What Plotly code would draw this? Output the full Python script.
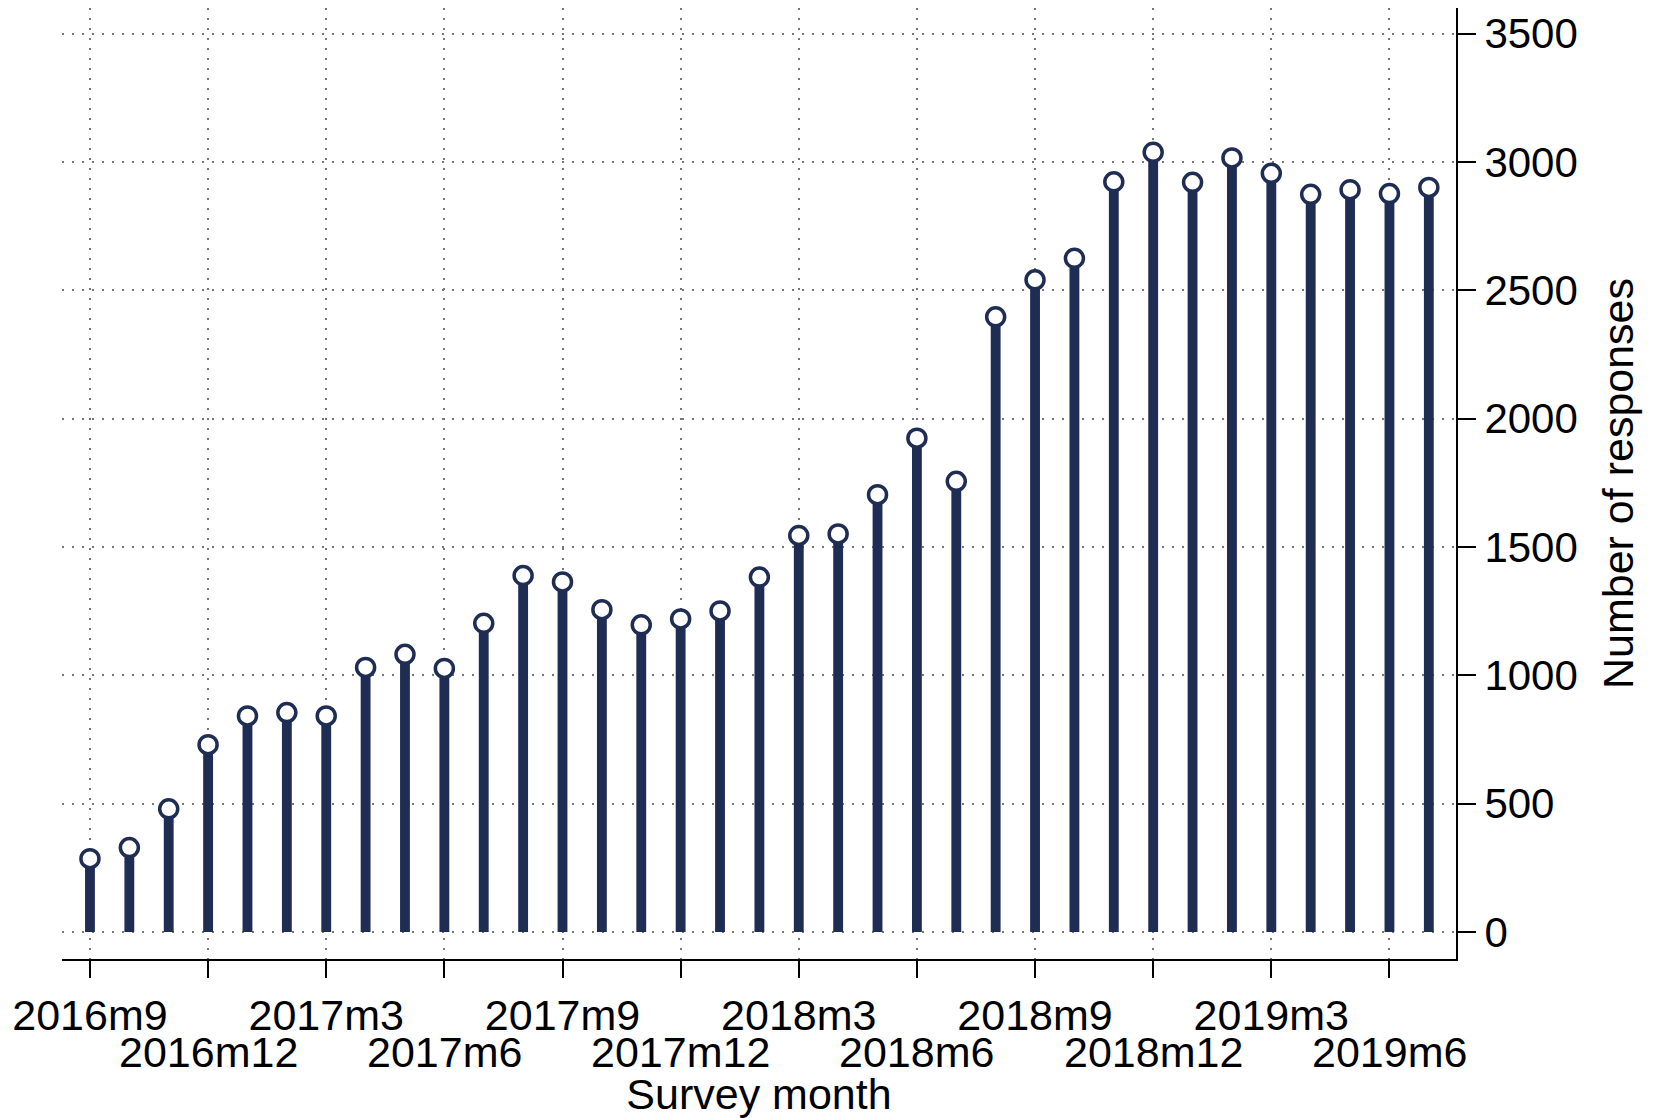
import plotly.graph_objects as go

# survey months, 2016m9 .. 2019m7
months = ["2016m9", "2016m10", "2016m11", "2016m12",
          "2017m1", "2017m2", "2017m3", "2017m4", "2017m5", "2017m6",
          "2017m7", "2017m8", "2017m9", "2017m10", "2017m11", "2017m12",
          "2018m1", "2018m2", "2018m3", "2018m4", "2018m5", "2018m6",
          "2018m7", "2018m8", "2018m9", "2018m10", "2018m11", "2018m12",
          "2019m1", "2019m2", "2019m3", "2019m4", "2019m5", "2019m6", "2019m7"]
responses = [286, 329, 480, 730,
             842, 855, 842, 1031, 1082, 1027,
             1203, 1389, 1364, 1256, 1197, 1220,
             1251, 1383, 1545, 1551, 1704, 1924,
             1756, 2397, 2541, 2625, 2923, 3038,
             2921, 3016, 2956, 2874, 2892, 2877, 2901]

# labelled months, Stata style: alternate labels sit on a second row
tick_months = ["2016m9", "2016m12", "2017m3", "2017m6", "2017m9", "2017m12",
               "2018m3", "2018m6", "2018m9", "2018m12", "2019m3", "2019m6"]
row1 = tick_months[0::2]
row2 = tick_months[1::2]

navy = "#1f2d54"
font = "Liberation Sans, Arial, sans-serif"

fig = go.Figure()
fig.add_trace(go.Bar(x=months, y=responses, width=0.25,
                     marker=dict(color=navy, line=dict(width=0))))
fig.add_trace(go.Scatter(x=months, y=responses, mode="markers",
                         marker=dict(symbol="circle", size=18, color="white",
                                     line=dict(color=navy, width=3.5))))

# second row of x labels
for m in row2:
    fig.add_annotation(x=m, xref="x", y=0, yref="paper", text=m,
                       showarrow=False, yanchor="middle", yshift=-93,
                       font=dict(size=43))

fig.update_layout(
    width=1654, height=1118,
    margin=dict(l=62, r=198, t=8, b=159),
    plot_bgcolor="white", paper_bgcolor="white",
    showlegend=False,
    font=dict(family=font, size=41, color="black"),
)
fig.update_xaxes(
    type="category", range=[-0.71, 34.69],
    tickmode="array", tickvals=tick_months,
    ticktext=[m if m in row1 else "" for m in tick_months], tickangle=0,
    tickfont=dict(size=43),
    showline=True, linecolor="black", linewidth=2,
    ticks="outside", ticklen=17, tickwidth=2, tickcolor="black",
    showgrid=True, gridcolor="#777777", gridwidth=1.5, griddash="2px,8px",
    title=dict(text="Survey month", standoff=50, font=dict(size=43)),
    automargin=False,
)
fig.update_yaxes(
    side="right", range=[-105, 3600], dtick=500, tick0=0,
    tickfont=dict(size=42),
    showline=True, linecolor="black", linewidth=2,
    ticks="outside", ticklen=18, tickwidth=2, tickcolor="black",
    showgrid=True, gridcolor="#777777", gridwidth=1.5, griddash="2px,8px",
    zeroline=False,
    title=dict(text="Number of responses", standoff=26, font=dict(size=43)),
    automargin=False,
)

fig.write_html("out.html", config={"displayModeBar": False},
               post_script="document.body.style.margin='0';")
